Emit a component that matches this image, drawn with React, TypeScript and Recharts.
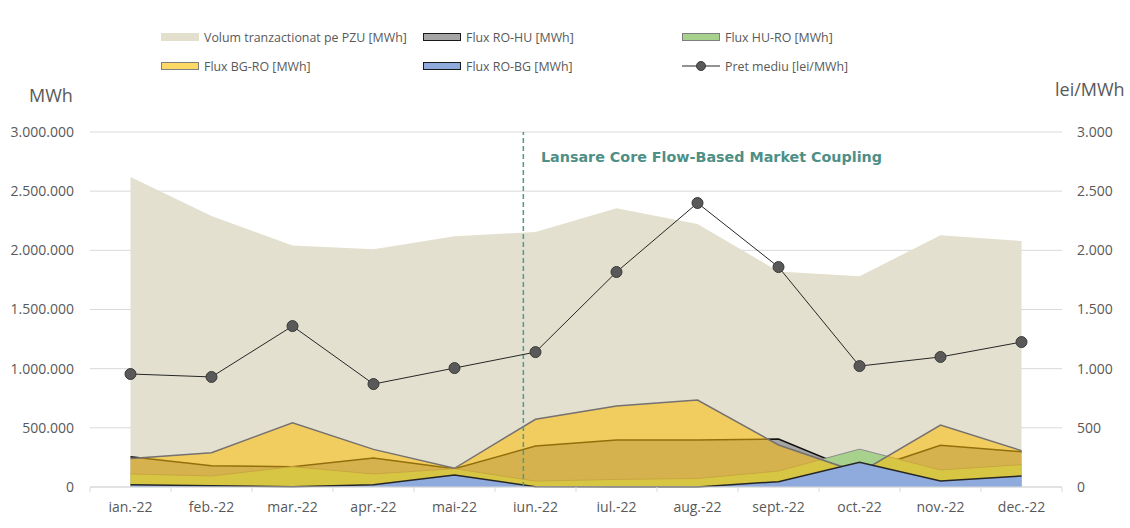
import { ComposedChart, Area, Line, XAxis, YAxis, CartesianGrid, ReferenceLine } from 'recharts';

const months = ['ian.-22', 'feb.-22', 'mar.-22', 'apr.-22', 'mai-22', 'iun.-22', 'iul.-22', 'aug.-22', 'sept.-22', 'oct.-22', 'nov.-22', 'dec.-22'];
const volumPzu = [2620000, 2290000, 2040000, 2010000, 2120000, 2155000, 2355000, 2222000, 1822000, 1780000, 2128000, 2078000];
const fluxRoHu = [256000, 180000, 172000, 245000, 155000, 346000, 398000, 398000, 405000, 124000, 352000, 298000];
const fluxHuRo = [110000, 93000, 172000, 110000, 155000, 50000, 64000, 72000, 135000, 320000, 144000, 189000];
const fluxBgRo = [240000, 290000, 543000, 318000, 158000, 572000, 684000, 735000, 355000, 122000, 524000, 307000];
const fluxRoBg = [20000, 11000, 3000, 20000, 101000, 3000, 0, 1000, 45000, 209000, 51000, 93000];
const pretMediu = [955, 930, 1360, 870, 1005, 1140, 1817, 2400, 1859, 1022, 1099, 1225];

const leftTicks = [0, 500000, 1000000, 1500000, 2000000, 2500000, 3000000];
const rightTicks = [0, 500, 1000, 1500, 2000, 2500, 3000];

const data = months.map((m, i) => ({
  month: m,
  volum: volumPzu[i],
  roHu: fluxRoHu[i],
  huRo: fluxHuRo[i],
  bgRo: fluxBgRo[i],
  roBg: fluxRoBg[i],
  pret: pretMediu[i],
}));

const fmt = (v: number) => String(v).replace(/\B(?=(\d{3})+(?!\d))/g, '.');

const TXT = '#595959';
const GRID = '#D9D9D9';
const STEP = 81; // px per month

const MonthTick = (props: any) => {
  const { x, y, payload, index } = props;
  const axisY = y - 8;
  return (
    <g>
      <line x1={x - STEP / 2} x2={x - STEP / 2} y1={axisY} y2={axisY + 5} stroke={GRID} />
      {index === months.length - 1 && <line x1={x + STEP / 2} x2={x + STEP / 2} y1={axisY} y2={axisY + 5} stroke={GRID} />}
      <text x={x} y={y + 17} textAnchor="middle" fill={TXT} fontSize={14} fontFamily='"Open Sans", sans-serif'>
        {payload.value}
      </text>
    </g>
  );
};

// launch was early June, so shift the marker a bit left of the iun. point
const LaunchLine = (props: any) => {
  const { x1, y1, x2, y2 } = props;
  const dx = -0.15 * STEP;
  return <line x1={x1 + dx} x2={x2 + dx} y1={y1} y2={y2} stroke="#4E9A93" strokeWidth={1.5} strokeDasharray="5 3" />;
};

const legendItems = [
  { label: 'Volum tranzactionat pe PZU [MWh]', x: 161, y: 37, fill: '#E2DFCD', border: 'none' },
  { label: 'Flux RO-HU [MWh]', x: 423, y: 37, fill: '#A5A5A5', border: '1.5px solid #1a1a1a' },
  { label: 'Flux HU-RO [MWh]', x: 682, y: 37, fill: '#A9D18E', border: '1.5px solid #7F7F7F' },
  { label: 'Flux BG-RO [MWh]', x: 161, y: 66, fill: '#FFD966', border: '1.5px solid #7F7F7F' },
  { label: 'Flux RO-BG [MWh]', x: 423, y: 66, fill: '#8FAADC', border: '1.5px solid #1a1a1a' },
];

export default function App() {
  return (
    <div style={{ position: 'absolute', left: 0, top: 0, width: 1130, height: 528, background: '#fff', fontFamily: '"Open Sans", sans-serif' }}>
      <ComposedChart width={1130} height={528} data={data} margin={{ top: 132, right: 0, left: 0, bottom: 11 }}>
        <CartesianGrid yAxisId="left" vertical={false} stroke={GRID} />
        <XAxis dataKey="month" padding={{ left: STEP / 2, right: STEP / 2 }} axisLine={{ stroke: GRID }} tickLine={false} tick={<MonthTick />} height={30} interval={0} />
        <YAxis yAxisId="left" width={90} domain={[0, 3000000]} ticks={leftTicks} tickFormatter={fmt} axisLine={false} tickLine={false} tickMargin={10} tick={{ fill: TXT, fontSize: 14 }} />
        <YAxis yAxisId="right" orientation="right" width={68} domain={[0, 3000]} ticks={rightTicks} tickFormatter={fmt} axisLine={false} tickLine={false} tickMargin={9} tick={{ fill: TXT, fontSize: 14, textAnchor: 'start' }} />
        <Area yAxisId="left" type="linear" dataKey="volum" fill="#E3E0CF" fillOpacity={1} stroke="none" isAnimationActive={false} />
        <Area yAxisId="left" type="linear" dataKey="roHu" fill="#A5A5A5" fillOpacity={1} stroke="#111" strokeWidth={1.5} isAnimationActive={false} />
        <Area yAxisId="left" type="linear" dataKey="huRo" fill="#A9D18E" fillOpacity={1} stroke="#8A8A8A" strokeWidth={1} isAnimationActive={false} />
        <Area yAxisId="left" type="linear" dataKey="bgRo" fill="#FDBE05" fillOpacity={0.55} stroke="#767171" strokeWidth={1.5} isAnimationActive={false} />
        <Area yAxisId="left" type="linear" dataKey="roBg" fill="#8FAADC" fillOpacity={1} stroke="#262626" strokeWidth={1.5} isAnimationActive={false} />
        <ReferenceLine yAxisId="left" x="iun.-22" shape={<LaunchLine />} ifOverflow="visible" />
        <Line yAxisId="right" type="linear" dataKey="pret" stroke="#262626" strokeWidth={1} dot={{ r: 5.5, fill: '#595959', stroke: '#3A3A3A', strokeWidth: 1 }} isAnimationActive={false} />
      </ComposedChart>

      {legendItems.map((it) => (
        <div key={it.label} style={{ position: 'absolute', left: it.x, top: it.y - 10, height: 20, display: 'flex', alignItems: 'center', gap: 5, fontSize: 12.4, color: TXT, whiteSpace: 'nowrap' }}>
          <span style={{ display: 'inline-block', width: 38, height: 8, background: it.fill, border: it.border, boxSizing: 'border-box' }} />
          <span>{it.label}</span>
        </div>
      ))}
      <div style={{ position: 'absolute', left: 682, top: 56, height: 20, display: 'flex', alignItems: 'center', gap: 5, fontSize: 12.4, color: TXT, whiteSpace: 'nowrap' }}>
        <svg width={38} height={12}>
          <line x1={0} x2={38} y1={6} y2={6} stroke="#262626" strokeWidth={1} />
          <circle cx={19} cy={6} r={4.5} fill="#595959" stroke="#3A3A3A" />
        </svg>
        <span>Pret mediu [lei/MWh]</span>
      </div>

      <div style={{ position: 'absolute', left: 29, top: 83, lineHeight: '24px', fontSize: 18, color: TXT }}>MWh</div>
      <div style={{ position: 'absolute', left: 1055, top: 77, lineHeight: '24px', fontSize: 18, color: TXT }}>lei/MWh</div>
      <div style={{ position: 'absolute', left: 541, top: 147, lineHeight: '20px', fontSize: 14.3, fontWeight: 'bold', color: '#4E8F86', fontFamily: '"DejaVu Sans", sans-serif', whiteSpace: 'nowrap' }}>
        Lansare Core Flow-Based Market Coupling
      </div>
    </div>
  );
}
